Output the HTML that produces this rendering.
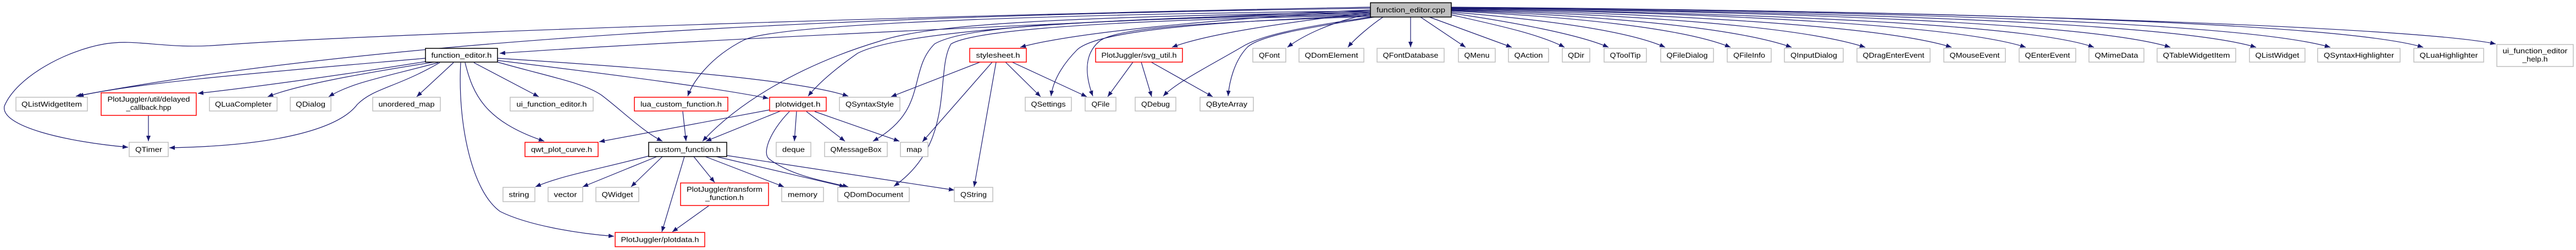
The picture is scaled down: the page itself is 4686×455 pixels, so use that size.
<!DOCTYPE html>
<html><head><meta charset="utf-8"><style>
html,body{margin:0;padding:0;background:#fff;}
svg{display:block;}
text{font-family:"Liberation Sans",sans-serif;font-size:13px;fill:#000;}
.g{fill:#fff;stroke:#bfbfbf;stroke-width:1.5;}
.r{fill:#fff;stroke:#ff0000;stroke-width:1.5;}
.b{fill:#fff;stroke:#000;stroke-width:1.5;}
.e{fill:none;stroke:#191970;stroke-width:1.2;marker-end:url(#a);}
</style></head><body>
<svg width="4686" height="455" viewBox="0 0 4686 455" xmlns="http://www.w3.org/2000/svg">
<defs><marker id="a" markerUnits="userSpaceOnUse" markerWidth="12" markerHeight="10" refX="10" refY="4" orient="auto"><path d="M0,0 L10,4 L0,8 z" fill="#191970"/></marker></defs>
<g>
<!-- edges from function_editor.cpp -->
<path class="e" d="M2516 31 C2495 45 2465 70 2452 86"/>
<path class="e" d="M2566 31 L2566 86"/>
<path class="e" d="M2584 31 L2666 86"/>
<path class="e" d="M2600 31 L2750 86"/>
<path class="e" d="M2640 27 C2720 45 2800 62 2846 86"/>
<path class="e" d="M2640 24 C2750 40 2870 62 2926 86"/>
<path class="e" d="M2640 22 C2800 35 2960 55 3029 86"/>
<path class="e" d="M2640 20 C2850 30 3060 50 3148 86"/>
<path class="e" d="M2640 19 C2900 28 3150 48 3259 86"/>
<path class="e" d="M2640 18 C2950 26 3270 46 3393 86"/>
<path class="e" d="M2640 17 C3000 24 3420 45 3550 86"/>
<path class="e" d="M2640 16 C3050 22 3550 42 3685 86"/>
<path class="e" d="M2640 16 C3100 22 3680 40 3809 86"/>
<path class="e" d="M2640 15 C3200 20 3800 40 3948 86"/>
<path class="e" d="M2640 15 C3300 20 3950 40 4104 86"/>
<path class="e" d="M2640 14 C3400 19 4080 40 4239 86"/>
<path class="e" d="M2640 14 C3500 19 4250 40 4408 86"/>
<path class="e" d="M2640 13 C3600 20 4400 50 4540 80"/>
<path class="e" d="M2493 25 C2420 40 2370 65 2342 86"/>
<path class="e" d="M2493 22 C2350 40 2200 60 2132 86"/>
<path class="e" d="M2493 20 C2200 35 1950 60 1856 86"/>
<path class="e" d="M2493 18 C2000 40 1300 70 909 97"/>
<path class="e" d="M2493 15 C1800 25 800 50 138 175"/>
<path class="e" d="M2493 13 C1800 25 700 60 400 82 C300 90 250 70 190 80 C120 92 30 140 8 193 C0 230 120 258 233 268"/>
<path class="e" d="M2493 20 C2000 25 1420 40 1353 73 C1290 105 1260 150 1251 175"/>
<path class="e" d="M2493 24 C2100 30 1650 50 1560 97 C1520 125 1490 150 1470 175"/>
<path class="e" d="M2493 22 C2000 30 1700 40 1600 75 C1450 120 1340 190 1278 257"/>
<path class="e" d="M2493 26 C2000 35 1760 45 1700 80 C1650 130 1690 200 1588 257"/>
<path class="e" d="M2493 28 C2100 35 1780 50 1730 80 C1700 130 1740 260 1626 339"/>
<path class="e" d="M2493 28 C2200 40 2000 55 1960 90 C1930 120 1915 150 1912 175"/>
<path class="e" d="M2493 30 C2200 40 2030 50 2000 75 C1970 100 1975 140 1988 175"/>
<path class="e" d="M2493 31 C2400 45 2300 60 2260 85 C2200 120 2140 150 2116 175"/>
<path class="e" d="M2500 31 C2420 45 2300 60 2270 85 C2245 110 2236 150 2234 175"/>
<!-- function_editor.h -->
<path class="e" d="M774 106 C500 130 250 150 142 175"/>
<path class="e" d="M775 112 C600 140 450 160 360 170"/>
<path class="e" d="M790 113 C650 135 540 155 487 176"/>
<path class="e" d="M797 114 C700 140 640 150 598 176"/>
<path class="e" d="M800 114 C720 160 680 160 650 190 C620 230 520 265 308 269"/>
<path class="e" d="M825 114 L758 176"/>
<path class="e" d="M862 114 L980 176"/>
<path class="e" d="M846 114 C860 170 880 220 990 257"/>
<path class="e" d="M838 114 C832 230 860 350 910 385 C960 410 1050 425 1117 430"/>
<path class="e" d="M905 113 C1000 140 1060 150 1094 173 C1130 200 1170 240 1205 257"/>
<path class="e" d="M905 106 C1200 125 1450 145 1543 175"/>
<path class="e" d="M905 110 C1150 140 1300 160 1398 179"/>
<!-- others -->
<path class="e" d="M270 210 L270 257"/>
<path class="e" d="M1242 203 L1248 257"/>
<path class="e" d="M1420 202 L1284 257"/>
<path class="e" d="M1400 200 L1090 258"/>
<path class="e" d="M1449 203 L1445 257"/>
<path class="e" d="M1467 203 L1537 257"/>
<path class="e" d="M1482 203 L1636 257"/>
<path class="e" d="M1436 203 C1400 240 1385 280 1400 290 C1440 320 1500 330 1543 340"/>
<path class="e" d="M1783 113 L1621 176"/>
<path class="e" d="M1829 113 L1893 176"/>
<path class="e" d="M1841 113 L1977 176"/>
<path class="e" d="M1805 113 L1678 258"/>
<path class="e" d="M1812 113 L1772 340"/>
<path class="e" d="M2061 113 L2015 176"/>
<path class="e" d="M2076 113 L2095 176"/>
<path class="e" d="M2094 113 L2206 176"/>
<path class="e" d="M1180 284 C1080 310 1020 320 974 340"/>
<path class="e" d="M1195 285 L1060 340"/>
<path class="e" d="M1205 285 L1148 340"/>
<path class="e" d="M1245 285 L1204 422"/>
<path class="e" d="M1262 285 L1300 332"/>
<path class="e" d="M1283 285 L1426 340"/>
<path class="e" d="M1303 285 L1537 340"/>
<path class="e" d="M1322 283 L1736 346"/>
<path class="e" d="M1290 374 L1223 422"/>
</g>
<g>
<rect class="b" x="2493" y="5" width="147" height="26" style="fill:#bfbfbf"/><text x="2566.5" y="22.5" text-anchor="middle" textLength="125" lengthAdjust="spacingAndGlyphs">function_editor.cpp</text>
<rect class="b" x="774" y="88" width="131" height="25"/><text x="839.5" y="105" text-anchor="middle" textLength="110" lengthAdjust="spacingAndGlyphs">function_editor.h</text>
<rect class="g" x="29" y="177" width="130" height="25"/><text x="94" y="194" text-anchor="middle" textLength="110" lengthAdjust="spacingAndGlyphs">QListWidgetItem</text>
<rect class="r" x="184" y="169" width="173" height="41"/><text x="270.5" y="185" text-anchor="middle" textLength="150" lengthAdjust="spacingAndGlyphs">PlotJuggler/util/delayed</text><text x="270.5" y="200" text-anchor="middle" textLength="82" lengthAdjust="spacingAndGlyphs">_callback.hpp</text>
<rect class="g" x="381" y="177" width="123" height="25"/><text x="442.5" y="194" text-anchor="middle" textLength="103" lengthAdjust="spacingAndGlyphs">QLuaCompleter</text>
<rect class="g" x="528" y="177" width="74" height="25"/><text x="565" y="194" text-anchor="middle" textLength="54" lengthAdjust="spacingAndGlyphs">QDialog</text>
<rect class="g" x="678" y="177" width="123" height="25"/><text x="739.5" y="194" text-anchor="middle" textLength="102" lengthAdjust="spacingAndGlyphs">unordered_map</text>
<rect class="g" x="928" y="177" width="151" height="25"/><text x="1003.5" y="194" text-anchor="middle" textLength="128" lengthAdjust="spacingAndGlyphs">ui_function_editor.h</text>
<rect class="r" x="1154" y="177" width="170" height="25"/><text x="1239" y="194" text-anchor="middle" textLength="148" lengthAdjust="spacingAndGlyphs">lua_custom_function.h</text>
<rect class="r" x="1400" y="177" width="103" height="25"/><text x="1451.5" y="194" text-anchor="middle" textLength="82" lengthAdjust="spacingAndGlyphs">plotwidget.h</text>
<rect class="g" x="1527" y="177" width="110" height="25"/><text x="1582" y="194" text-anchor="middle" textLength="88" lengthAdjust="spacingAndGlyphs">QSyntaxStyle</text>
<rect class="r" x="1764" y="88" width="103" height="25"/><text x="1815.5" y="105" text-anchor="middle" textLength="80" lengthAdjust="spacingAndGlyphs">stylesheet.h</text>
<rect class="r" x="1993" y="88" width="158" height="25"/><text x="2072" y="105" text-anchor="middle" textLength="137" lengthAdjust="spacingAndGlyphs">PlotJuggler/svg_util.h</text>
<rect class="g" x="2279" y="88" width="60" height="25"/><text x="2309" y="105" text-anchor="middle" textLength="38" lengthAdjust="spacingAndGlyphs">QFont</text>
<rect class="g" x="2363" y="88" width="118" height="25"/><text x="2422" y="105" text-anchor="middle" textLength="97" lengthAdjust="spacingAndGlyphs">QDomElement</text>
<rect class="g" x="1865" y="177" width="84" height="25"/><text x="1907" y="194" text-anchor="middle" textLength="63" lengthAdjust="spacingAndGlyphs">QSettings</text>
<rect class="g" x="1974" y="177" width="56" height="25"/><text x="2002" y="194" text-anchor="middle" textLength="33" lengthAdjust="spacingAndGlyphs">QFile</text>
<rect class="g" x="2065" y="177" width="74" height="25"/><text x="2102" y="194" text-anchor="middle" textLength="52" lengthAdjust="spacingAndGlyphs">QDebug</text>
<rect class="g" x="2183" y="177" width="97" height="25"/><text x="2231.5" y="194" text-anchor="middle" textLength="75" lengthAdjust="spacingAndGlyphs">QByteArray</text>
<rect class="g" x="235" y="259" width="71" height="26"/><text x="270.5" y="276.5" text-anchor="middle" textLength="49" lengthAdjust="spacingAndGlyphs">QTimer</text>
<rect class="r" x="955" y="259" width="133" height="26"/><text x="1021.5" y="276.5" text-anchor="middle" textLength="111" lengthAdjust="spacingAndGlyphs">qwt_plot_curve.h</text>
<rect class="b" x="1180" y="259" width="142" height="26"/><text x="1251" y="276.5" text-anchor="middle" textLength="120" lengthAdjust="spacingAndGlyphs">custom_function.h</text>
<rect class="g" x="1412" y="259" width="63" height="26"/><text x="1443.5" y="276.5" text-anchor="middle" textLength="41" lengthAdjust="spacingAndGlyphs">deque</text>
<rect class="g" x="1500" y="259" width="114" height="26"/><text x="1557" y="276.5" text-anchor="middle" textLength="93" lengthAdjust="spacingAndGlyphs">QMessageBox</text>
<rect class="g" x="1638" y="259" width="50" height="26"/><text x="1663" y="276.5" text-anchor="middle" textLength="28" lengthAdjust="spacingAndGlyphs">map</text>
<rect class="g" x="915" y="341" width="58" height="26"/><text x="944" y="358.5" text-anchor="middle" textLength="37" lengthAdjust="spacingAndGlyphs">string</text>
<rect class="g" x="997" y="341" width="63" height="26"/><text x="1028.5" y="358.5" text-anchor="middle" textLength="42" lengthAdjust="spacingAndGlyphs">vector</text>
<rect class="g" x="1084" y="341" width="78" height="26"/><text x="1123" y="358.5" text-anchor="middle" textLength="57" lengthAdjust="spacingAndGlyphs">QWidget</text>
<rect class="r" x="1238" y="333" width="160" height="41"/><text x="1318" y="349" text-anchor="middle" textLength="138" lengthAdjust="spacingAndGlyphs">PlotJuggler/transform</text><text x="1318" y="364" text-anchor="middle" textLength="70" lengthAdjust="spacingAndGlyphs">_function.h</text>
<rect class="g" x="1422" y="341" width="76" height="26"/><text x="1460" y="358.5" text-anchor="middle" textLength="54" lengthAdjust="spacingAndGlyphs">memory</text>
<rect class="g" x="1524" y="341" width="130" height="26"/><text x="1589" y="358.5" text-anchor="middle" textLength="108" lengthAdjust="spacingAndGlyphs">QDomDocument</text>
<rect class="g" x="1736" y="341" width="70" height="26"/><text x="1771" y="358.5" text-anchor="middle" textLength="48" lengthAdjust="spacingAndGlyphs">QString</text>
<rect class="r" x="1119" y="423" width="163" height="26"/><text x="1200.5" y="440.5" text-anchor="middle" textLength="142" lengthAdjust="spacingAndGlyphs">PlotJuggler/plotdata.h</text>
<rect class="g" x="2505" y="88" width="122" height="25"/><text x="2566" y="105" text-anchor="middle" textLength="101" lengthAdjust="spacingAndGlyphs">QFontDatabase</text>
<rect class="g" x="2653" y="88" width="67" height="25"/><text x="2686.5" y="105" text-anchor="middle" textLength="46" lengthAdjust="spacingAndGlyphs">QMenu</text>
<rect class="g" x="2744" y="88" width="73" height="25"/><text x="2780.5" y="105" text-anchor="middle" textLength="52" lengthAdjust="spacingAndGlyphs">QAction</text>
<rect class="g" x="2842" y="88" width="50" height="25"/><text x="2867" y="105" text-anchor="middle" textLength="30" lengthAdjust="spacingAndGlyphs">QDir</text>
<rect class="g" x="2918" y="88" width="77" height="25"/><text x="2956.5" y="105" text-anchor="middle" textLength="56" lengthAdjust="spacingAndGlyphs">QToolTip</text>
<rect class="g" x="3021" y="88" width="96" height="25"/><text x="3069" y="105" text-anchor="middle" textLength="75" lengthAdjust="spacingAndGlyphs">QFileDialog</text>
<rect class="g" x="3142" y="88" width="80" height="25"/><text x="3182" y="105" text-anchor="middle" textLength="58" lengthAdjust="spacingAndGlyphs">QFileInfo</text>
<rect class="g" x="3246" y="88" width="107" height="25"/><text x="3299.5" y="105" text-anchor="middle" textLength="85" lengthAdjust="spacingAndGlyphs">QInputDialog</text>
<rect class="g" x="3378" y="88" width="133" height="25"/><text x="3444.5" y="105" text-anchor="middle" textLength="112" lengthAdjust="spacingAndGlyphs">QDragEnterEvent</text>
<rect class="g" x="3536" y="88" width="112" height="25"/><text x="3592" y="105" text-anchor="middle" textLength="91" lengthAdjust="spacingAndGlyphs">QMouseEvent</text>
<rect class="g" x="3673" y="88" width="103" height="25"/><text x="3724.5" y="105" text-anchor="middle" textLength="82" lengthAdjust="spacingAndGlyphs">QEnterEvent</text>
<rect class="g" x="3800" y="88" width="100" height="25"/><text x="3850" y="105" text-anchor="middle" textLength="79" lengthAdjust="spacingAndGlyphs">QMimeData</text>
<rect class="g" x="3924" y="88" width="143" height="25"/><text x="3995.5" y="105" text-anchor="middle" textLength="122" lengthAdjust="spacingAndGlyphs">QTableWidgetItem</text>
<rect class="g" x="4092" y="88" width="101" height="25"/><text x="4142.5" y="105" text-anchor="middle" textLength="80" lengthAdjust="spacingAndGlyphs">QListWidget</text>
<rect class="g" x="4216" y="88" width="150" height="25"/><text x="4291" y="105" text-anchor="middle" textLength="128" lengthAdjust="spacingAndGlyphs">QSyntaxHighlighter</text>
<rect class="g" x="4391" y="88" width="127" height="25"/><text x="4454.5" y="105" text-anchor="middle" textLength="106" lengthAdjust="spacingAndGlyphs">QLuaHighlighter</text>
<rect class="g" x="4542" y="81" width="139" height="40"/><text x="4611.5" y="97" text-anchor="middle" textLength="118" lengthAdjust="spacingAndGlyphs">ui_function_editor</text><text x="4611.5" y="112" text-anchor="middle" textLength="46" lengthAdjust="spacingAndGlyphs">_help.h</text>
</g>
</svg>
</body></html>
